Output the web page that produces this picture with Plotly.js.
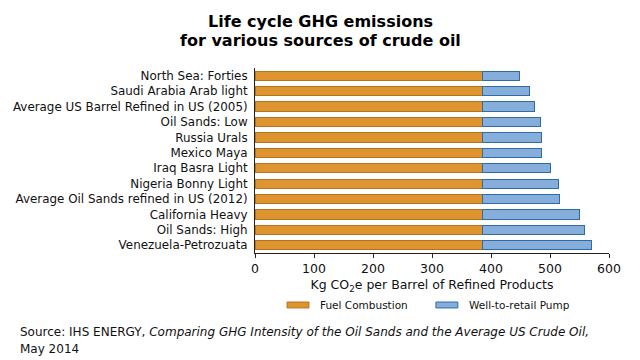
<!DOCTYPE html>
<html>
<head>
<meta charset="utf-8">
<script src="https://cdn.plot.ly/plotly-3.0.1.min.js"></script>
<style>html,body{margin:0;padding:0;background:#fff;}#chart{width:640px;height:360px;}</style>
</head>
<body>
<div id="chart"></div>
<script>
const categories = [
  "North Sea: Forties",
  "Saudi Arabia Arab light",
  "Average US Barrel Refined in US (2005)",
  "Oil Sands: Low",
  "Russia Urals",
  "Mexico Maya",
  "Iraq Basra Light",
  "Nigeria Bonny Light",
  "Average Oil Sands refined in US (2012)",
  "California Heavy",
  "Oil Sands: High",
  "Venezuela-Petrozuata"
];
const fuelCombustion = [386, 386, 386, 386, 386, 386, 386, 386, 386, 386, 386, 386];
const wellToPump = [62, 80, 87, 98, 99, 100, 115, 128, 130, 164, 173, 184];
const xTicks = [0, 100, 200, 300, 400, 500, 600];
const seriesNames = ["Fuel Combustion", "Well-to-retail Pump"];

const F = "DejaVu Sans, Arial, sans-serif";
const fills = ["#DE9530", "#86AEDB"];
const edges = ["#B5741C", "#2F6BA8"];
const traces = [
  {type: "bar", orientation: "h", name: seriesNames[0], y: categories, x: fuelCombustion,
   marker: {color: fills[0], line: {color: edges[0], width: 1}}, width: 0.6},
  {type: "bar", orientation: "h", name: seriesNames[1], y: categories, x: wellToPump,
   marker: {color: fills[1], line: {color: edges[1], width: 1}}, width: 0.6}
];

// manual legend (paper coords)
const legX = [0.0904, 0.511];
const shapes = [];
const annotations = [];
legX.forEach((x0, i) => {
  shapes.push({type: "rect", xref: "paper", yref: "paper", x0: x0, x1: x0 + 0.062, y0: -0.297, y1: -0.265,
               fillcolor: fills[i], line: {color: edges[i], width: 1}});
  annotations.push({xref: "paper", yref: "paper", x: x0 + 0.088, xanchor: "left", y: -0.281, yanchor: "middle",
                    showarrow: false, text: seriesNames[i], font: {size: 10.5, family: F, color: "#111"}});
});
annotations.push(
  {xref: "paper", yref: "paper", x: 0.184, xanchor: "center", y: 1.249, yanchor: "middle",
   showarrow: false, font: {size: 16, family: F, color: "#000"},
   text: "<b>Life cycle GHG emissions</b>"},
  {xref: "paper", yref: "paper", x: 0.184, xanchor: "center", y: 1.151, yanchor: "middle",
   showarrow: false, font: {size: 16, family: F, color: "#000"},
   text: "<b>for various sources of crude oil</b>"},
  {xref: "paper", yref: "paper", x: -0.669, xanchor: "left", y: -0.427, yanchor: "middle",
   showarrow: false, align: "left", font: {size: 12, family: F, color: "#111"},
   text: "Source: IHS ENERGY, <i>Comparing GHG Intensity of the Oil Sands and the Average US Crude Oil,</i>"},
  {xref: "paper", yref: "paper", x: -0.669, xanchor: "left", y: -0.52, yanchor: "middle",
   showarrow: false, align: "left", font: {size: 12, family: F, color: "#111"},
   text: "May 2014"}
);

const layout = {
  width: 640, height: 360,
  margin: {l: 255, r: 31, t: 68, b: 107},
  barmode: "stack",
  paper_bgcolor: "#fff", plot_bgcolor: "#fff",
  font: {family: F, color: "#111", size: 11},
  xaxis: {range: [0, 600], tickvals: xTicks, ticktext: xTicks.map(String),
          showgrid: false, zeroline: false, showline: true, linecolor: "#222", linewidth: 1,
          ticks: "outside", ticklen: 4, tickcolor: "#222", tickfont: {size: 12.5, family: F},
          title: {text: "Kg CO<sub>2</sub>e per Barrel of Refined Products", font: {size: 12.5, family: F}, standoff: 5}},
  yaxis: {autorange: "reversed", showgrid: false, zeroline: false, showline: true, linecolor: "#222",
          linewidth: 1, ticks: "", tickfont: {size: 11.9, family: F}, ticklabelstandoff: 4},
  bargap: 0.4,
  showlegend: false,
  shapes: shapes,
  annotations: annotations
};
Plotly.newPlot("chart", traces, layout, {displayModeBar: false, staticPlot: true});
</script>
</body>
</html>
